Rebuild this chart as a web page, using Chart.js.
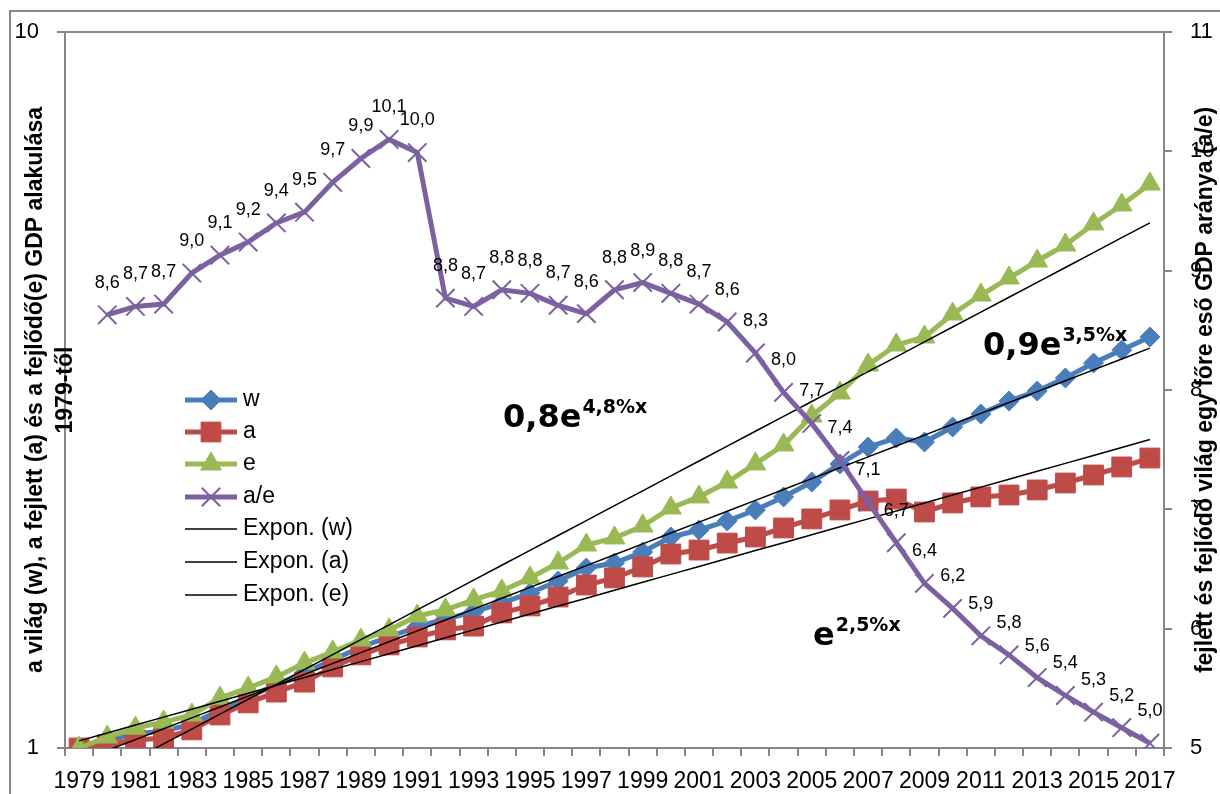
<!DOCTYPE html>
<html lang="hu">
<head>
<meta charset="utf-8">
<title>GDP alakulása 1979-től</title>
<script src="https://cdn.jsdelivr.net/npm/chart.js@4/dist/chart.umd.min.js"></script>
<style>
    html, body { margin: 0; padding: 0; background: #ffffff; }
    #chartWrap { position: relative; width: 1220px; height: 794px; overflow: hidden; }
</style>
</head>
<body>
<div id="chartWrap"><canvas id="gdpChart"></canvas></div>
<script>
// Categories
const years = ['1979', '1980', '1981', '1982', '1983', '1984', '1985', '1986', '1987', '1988',
    '1989', '1990', '1991', '1992', '1993', '1994', '1995', '1996', '1997', '1998',
    '1999', '2000', '2001', '2002', '2003', '2004', '2005', '2006', '2007', '2008',
    '2009', '2010', '2011', '2012', '2013', '2014', '2015', '2016', '2017'];

// GDP index, 1979 = 1 (left, logarithmic axis)
const worldGdp = [1.000, 1.023, 1.046, 1.056, 1.080, 1.130, 1.178, 1.225, 1.273, 1.327,
    1.384, 1.429, 1.476, 1.514, 1.549, 1.594, 1.646, 1.711, 1.784, 1.813,
    1.878, 1.971, 2.016, 2.075, 2.150, 2.242, 2.352, 2.493, 2.633, 2.710,
    2.675, 2.808, 2.927, 3.052, 3.152, 3.287, 3.449, 3.596, 3.750];
const developedGdp = [1.000, 1.010, 1.026, 1.033, 1.060, 1.112, 1.156, 1.197, 1.236, 1.298,
    1.349, 1.393, 1.429, 1.462, 1.480, 1.544, 1.579, 1.625, 1.689, 1.728,
    1.790, 1.866, 1.890, 1.933, 1.971, 2.029, 2.089, 2.150, 2.213, 2.227,
    2.136, 2.199, 2.242, 2.256, 2.293, 2.345, 2.406, 2.469, 2.541];
const developingGdp = [1.000, 1.036, 1.066, 1.087, 1.112, 1.174, 1.213, 1.257, 1.314, 1.362,
    1.415, 1.462, 1.529, 1.559, 1.610, 1.657, 1.728, 1.813, 1.921, 1.965,
    2.042, 2.164, 2.242, 2.352, 2.493, 2.650, 2.909, 3.132, 3.427, 3.655,
    3.750, 4.038, 4.292, 4.533, 4.788, 5.041, 5.394, 5.733, 6.134];

// per capita GDP ratio developed / developing (right axis)
const ratioAE = [null, 8.63, 8.70, 8.72, 8.98, 9.13, 9.24, 9.40, 9.49, 9.74,
    9.94, 10.10, 9.99, 8.77, 8.70, 8.84, 8.81, 8.71, 8.64, 8.84,
    8.90, 8.81, 8.72, 8.57, 8.31, 7.98, 7.72, 7.41, 7.06, 6.72,
    6.38, 6.17, 5.94, 5.78, 5.59, 5.44, 5.30, 5.17, 5.04];

// Axis ticks
const leftTicks = [1, 10];
const rightMin = 5;
const rightMax = 11;

// Trendline equations written on the chart
const trendNotes = [
    { base: '0,8e', power: '4,8%x' },
    { base: '0,9e', power: '3,5%x' },
    { base: 'e', power: '2,5%x' }
];

const COLORS = {
    w: '#4A7EBB',
    a: '#BE4B48',
    e: '#98B954',
    ae: '#7D60A0',
    axis: '#868686'
};

// Exponential least squares fit (Excel style, x = 1..n)
function expTrend(values) {
    const n = values.length;
    let sx = 0, sy = 0, sxx = 0, sxy = 0;
    values.forEach((v, i) => {
        const x = i + 1;
        const y = Math.log(v);
        sx += x; sy += y; sxx += x * x; sxy += x * y;
    });
    const b = (n * sxy - sx * sy) / (n * sxx - sx * sx);
    const lnA = (sy - b * sx) / n;
    console.log('trend', Math.exp(lnA).toFixed(3), (b * 100).toFixed(2) + '%');
    return values.map((v, i) => Math.exp(lnA + b * (i + 1)));
}

function drawMarker(ctx, style, r, x, y) {
    ctx.beginPath();
    if (style === 'rectRot') {
        ctx.moveTo(x, y - r); ctx.lineTo(x + r, y); ctx.lineTo(x, y + r); ctx.lineTo(x - r, y);
        ctx.closePath(); ctx.fill(); ctx.stroke();
    } else if (style === 'rect') {
        const s = r * Math.SQRT1_2;
        ctx.rect(x - s, y - s, 2 * s, 2 * s); ctx.fill(); ctx.stroke();
    } else if (style === 'triangle') {
        for (let k = 0; k < 3; k++) {
            const ang = k * 2 * Math.PI / 3;
            const px = x + Math.sin(ang) * r, py = y - Math.cos(ang) * r;
            if (k === 0) ctx.moveTo(px, py); else ctx.lineTo(px, py);
        }
        ctx.closePath(); ctx.fill(); ctx.stroke();
    } else if (style === 'crossRot') {
        const d = r * Math.SQRT1_2;
        ctx.moveTo(x - d, y - d); ctx.lineTo(x + d, y + d);
        ctx.moveTo(x - d, y + d); ctx.lineTo(x + d, y - d);
        ctx.stroke();
    }
}

const decorPlugin = {
    id: 'decor',
    beforeDraw(chart) {
        const ctx = chart.ctx;
        ctx.save();
        ctx.strokeStyle = COLORS.axis;
        ctx.lineWidth = 2;
        ctx.strokeRect(10, 11, 1400, 1000);
        ctx.restore();
    },
    afterDatasetsDraw(chart) {
        // data labels of a/e, above the points
        const ctx = chart.ctx;
        const idx = chart.data.datasets.findIndex(d => d.label === 'a/e');
        const meta = chart.getDatasetMeta(idx);
        ctx.save();
        ctx.font = '18px "Liberation Sans"';
        ctx.fillStyle = '#000';
        ctx.textAlign = 'center';
        ctx.textBaseline = 'middle';
        meta.data.forEach((pt, i) => {
            const v = ratioAE[i];
            if (v === null) return;
            ctx.fillText(v.toFixed(1).replace('.', ','), pt.x, pt.y - 32);
        });
        ctx.restore();
    },
    afterDraw(chart) {
        const ctx = chart.ctx;
        ctx.save();
        ctx.fillStyle = '#000';

        // axis titles
        ctx.font = 'bold 23px "Liberation Sans"';
        ctx.textAlign = 'center';
        ctx.textBaseline = 'alphabetic';
        const leftTitle = ['a világ (w), a fejlett (a) és a fejlődő(e) GDP alakulása', '1979-től'];
        [42, 72].forEach((bx, k) => {
            ctx.save();
            ctx.translate(bx, 390);
            ctx.rotate(-Math.PI / 2);
            ctx.fillText(leftTitle[k], 0, 0);
            ctx.restore();
        });
        ctx.save();
        ctx.translate(1212, 390);
        ctx.rotate(-Math.PI / 2);
        ctx.fillText('fejlett és fejlődő világ egy főre eső GDP aránya (a/e)', 0, 0);
        ctx.restore();

        // legend
        const rows = [400, 432, 464, 497, 529, 562, 595];
        chart.data.datasets.forEach((ds, i) => {
            const y = rows[i];
            ctx.strokeStyle = ds.borderColor;
            ctx.lineWidth = ds.borderWidth;
            ctx.beginPath();
            ctx.moveTo(185, y);
            ctx.lineTo(237, y);
            ctx.stroke();
            if (ds.pointRadius > 0) {
                ctx.fillStyle = ds.backgroundColor;
                ctx.strokeStyle = ds.borderColor;
                ctx.lineWidth = ds.pointBorderWidth;
                drawMarker(ctx, ds.pointStyle, ds.pointRadius, 211, y);
            }
            ctx.fillStyle = '#000';
            ctx.font = '23px "Liberation Sans"';
            ctx.textAlign = 'left';
            ctx.textBaseline = 'middle';
            ctx.fillText(ds.label, 243, y);
        });

        // equations of the trendlines
        const spots = [[503, 427], [983, 355], [813, 645]];
        trendNotes.forEach((note, i) => {
            const [x, y] = spots[i];
            ctx.textAlign = 'left';
            ctx.textBaseline = 'alphabetic';
            ctx.font = 'bold 32px "DejaVu Sans"';
            ctx.fillText(note.base, x, y);
            const w = ctx.measureText(note.base).width;
            ctx.font = 'bold 19px "DejaVu Sans"';
            ctx.fillText(note.power, x + w + 1, y - 14);
        });
        ctx.restore();
    }
};

class GdpChart {
    constructor(canvasId) {
        this.canvas = document.getElementById(canvasId);
        this.chart = null;
    }

    buildDatasets() {
        const line = (label, data, color, style, radius, order) => ({
            label, data, order,
            yAxisID: 'y',
            borderColor: color,
            backgroundColor: color,
            borderWidth: 5,
            pointStyle: style,
            pointRadius: radius,
            pointBorderWidth: 1,
            pointBackgroundColor: color,
            pointBorderColor: color
        });
        const trend = (label, data) => ({
            label, data, order: 2,
            yAxisID: 'y',
            borderColor: '#000000',
            backgroundColor: '#000000',
            borderWidth: 1.5,
            pointRadius: 0
        });
        return [
            line('w', worldGdp, COLORS.w, 'rectRot', 10, 5),
            line('a', developedGdp, COLORS.a, 'rect', 14, 4),
            line('e', developingGdp, COLORS.e, 'triangle', 12, 3),
            {
                label: 'a/e', data: ratioAE, order: 1,
                yAxisID: 'y2',
                borderColor: COLORS.ae,
                backgroundColor: COLORS.ae,
                borderWidth: 5,
                pointStyle: 'crossRot',
                pointRadius: 13,
                pointBorderWidth: 2,
                pointBorderColor: COLORS.ae,
                spanGaps: false
            },
            trend('Expon. (w)', expTrend(worldGdp)),
            trend('Expon. (a)', expTrend(developedGdp)),
            trend('Expon. (e)', expTrend(developingGdp))
        ];
    }

    render() {
        Chart.defaults.font.family = '"Liberation Sans", Arial, sans-serif';
        Chart.defaults.color = '#000000';

        this.chart = new Chart(this.canvas, {
            type: 'line',
            data: { labels: years, datasets: this.buildDatasets() },
            options: {
                responsive: true,
                maintainAspectRatio: false,
                animation: false,
                layout: { padding: { top: 32, left: 0, right: 0, bottom: 0 } },
                plugins: { legend: { display: false }, tooltip: { enabled: false } },
                elements: { line: { tension: 0 } },
                scales: {
                    x: {
                        type: 'category',
                        offset: true,
                        border: { color: COLORS.axis, width: 2 },
                        grid: { offset: true, drawOnChartArea: false, tickLength: 8, color: COLORS.axis, lineWidth: 2 },
                        ticks: {
                            autoSkip: false, maxRotation: 0, minRotation: 0, padding: 12,
                            font: { size: 23 },
                            callback: function (value, index) {
                                return index % 2 === 0 ? this.getLabelForValue(value) : '';
                            }
                        },
                        afterFit: scale => { scale.height = 46; }
                    },
                    y: {
                        type: 'logarithmic',
                        position: 'left',
                        min: 1,
                        max: 10,
                        border: { color: COLORS.axis, width: 2 },
                        grid: { color: COLORS.axis, lineWidth: 2, tickLength: 8 },
                        ticks: { padding: 18, font: { size: 22 }, callback: v => String(v) },
                        afterBuildTicks: scale => { scale.ticks = leftTicks.map(v => ({ value: v })); },
                        afterFit: scale => { scale.width = 65; }
                    },
                    y2: {
                        type: 'linear',
                        position: 'right',
                        min: rightMin,
                        max: rightMax,
                        border: { color: COLORS.axis, width: 2 },
                        grid: { drawOnChartArea: false, color: COLORS.axis, lineWidth: 2, tickLength: 8 },
                        ticks: { stepSize: 1, padding: 18, font: { size: 22 }, callback: v => String(v) },
                        afterFit: scale => { scale.width = 56; }
                    }
                }
            },
            plugins: [decorPlugin]
        });
        console.log('chart area', this.chart.chartArea);
    }
}

document.addEventListener('DOMContentLoaded', () => {
    const gdp = new GdpChart('gdpChart');
    gdp.render();
});
</script>
</body>
</html>
